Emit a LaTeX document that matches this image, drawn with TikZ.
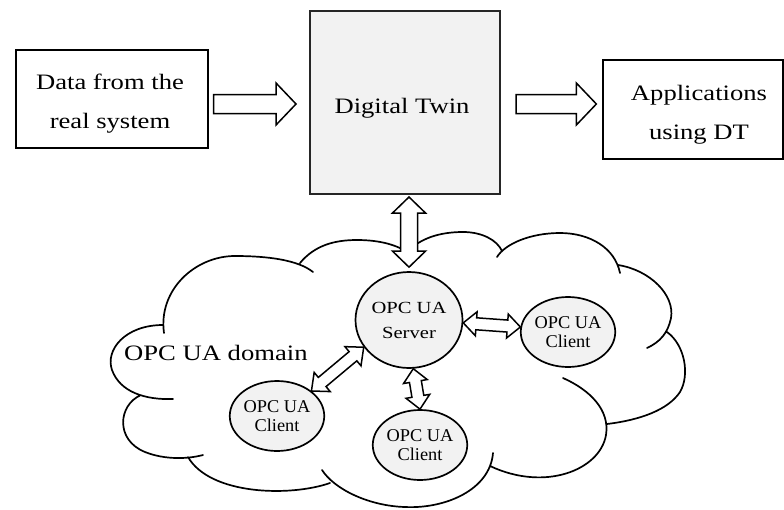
\documentclass[tikz,border=0pt]{standalone}
\usepackage{fontspec}
\setmainfont{Liberation Serif}[FakeStretch=1.21]
\newfontfamily\clientfont{Liberation Serif}[FakeStretch=1.02]
\usetikzlibrary{calc,shapes.geometric}
\definecolor{lg}{HTML}{F2F2F2}

\tikzset{
  plainbox/.style={draw=black, line width=1.3pt, fill=white, inner sep=0pt},
  twinbox/.style={draw=black!85, line width=2pt, fill=lg, inner sep=0pt},
  bigtext/.style={font=\fontsize{22pt}{39pt}\selectfont, align=center, inner sep=0pt},
  srvnode/.style={ellipse, draw=black, line width=1.7pt, fill=lg, inner sep=0pt,
    minimum width=107pt, minimum height=96pt, align=center,
    font=\fontsize{17pt}{25pt}\selectfont},
  clinode/.style={ellipse, draw=black, line width=1.7pt, fill=lg, inner sep=0pt,
    minimum width=80pt, minimum height=70pt, align=center,
    font=\clientfont\fontsize{18pt}{18.5pt}\selectfont},
  blockarr/.style={draw=black, line width=1.5pt, fill=white, line join=miter},
  cloudline/.style={draw=black, line width=1.7pt, line cap=round},
}

% single block arrow: #1 start, #2 end, #3 shaft half width, #4 head half width, #5 head length
\newcommand{\sglarrow}[5]{%
  \path[blockarr] let \p1=#1, \p2=#2, \n1={atan2(\y2-\y1,\x2-\x1)}, \n2={veclen(\x2-\x1,\y2-\y1)} in
    ([shift={(\p1)},rotate=\n1]0,#3)
 -- ([shift={(\p1)},rotate=\n1]{\n2-#5},#3)
 -- ([shift={(\p1)},rotate=\n1]{\n2-#5},#4)
 -- ([shift={(\p1)},rotate=\n1]\n2,0)
 -- ([shift={(\p1)},rotate=\n1]{\n2-#5},-#4)
 -- ([shift={(\p1)},rotate=\n1]{\n2-#5},-#3)
 -- ([shift={(\p1)},rotate=\n1]0,-#3) -- cycle;}

% double block arrow
\newcommand{\dblarrow}[5]{%
  \path[blockarr] let \p1=#1, \p2=#2, \n1={atan2(\y2-\y1,\x2-\x1)}, \n2={veclen(\x2-\x1,\y2-\y1)} in
    ([shift={(\p1)},rotate=\n1]0,0)
 -- ([shift={(\p1)},rotate=\n1]#5,#4)
 -- ([shift={(\p1)},rotate=\n1]#5,#3)
 -- ([shift={(\p1)},rotate=\n1]{\n2-#5},#3)
 -- ([shift={(\p1)},rotate=\n1]{\n2-#5},#4)
 -- ([shift={(\p1)},rotate=\n1]\n2,0)
 -- ([shift={(\p1)},rotate=\n1]{\n2-#5},-#4)
 -- ([shift={(\p1)},rotate=\n1]{\n2-#5},-#3)
 -- ([shift={(\p1)},rotate=\n1]#5,-#3)
 -- ([shift={(\p1)},rotate=\n1]#5,-#4) -- cycle;}

\begin{document}
\begin{tikzpicture}[x=1pt,y=-1pt]
\useasboundingbox (0,0) rectangle (784,509);

% cloud (OPC UA domain)
\draw[cloudline]
 (163,325) .. controls (125,325) and (105,350) .. (112,370) .. controls (120,392) and (145,400) .. (173,399)
 (141,395) .. controls (118,405) and (115,440) .. (145,452) .. controls (165,460) and (188,459) .. (203,455)
 (188,457) .. controls (210,495) and (290,497) .. (330,483)
 (322,470) .. controls (335,490) and (370,506) .. (405,507) .. controls (445,509) and (490,490) .. (493,453)
 (490,466) .. controls (545,492) and (600,470) .. (606,435) .. controls (610,410) and (590,390) .. (563,378)
 (607,424) .. controls (640,420) and (668,410) .. (680,392) .. controls (690,375) and (685,345) .. (667,332)
 (647,348) .. controls (660,342) and (668,333) .. (671,318) .. controls (675,295) and (650,270) .. (618,265)
 (620,273) .. controls (615,248) and (590,233) .. (560,233) .. controls (530,233) and (505,244) .. (497,257)
 (502,251) .. controls (497,240) and (482,232) .. (463,232) .. controls (440,232) and (420,238) .. (406,253)
 (410,254) .. controls (398,245) and (380,240) .. (357,240) .. controls (335,240) and (315,245) .. (300,263)
 (313,272) .. controls (298,260) and (268,256) .. (235,256) .. controls (195,256) and (158,290) .. (164,333);

\node[bigtext, anchor=base west] (dom) at (124,360) {OPC UA domain};

% top row boxes
\node[plainbox, minimum width=192pt, minimum height=98pt] (data) at (112,99) {};
\node[bigtext] (datat) at (110,103.5) {Data from the\\real system};
\node[twinbox, minimum width=190pt, minimum height=183pt] (dt) at (405,102.5) {};
\node[bigtext] (dtt) at (402,108) {Digital Twin};
\node[plainbox, minimum width=180pt, minimum height=99pt] (app) at (693,109.5) {};
\node[bigtext] (appt) at (699,115) {Applications\\using DT};

% OPC UA nodes
\node[srvnode] (server) at (409,320) {OPC UA\\Server};
\node[clinode] (cl1) at (277,416) {OPC UA\\Client};
\node[clinode] (cl2) at (420,445) {OPC UA\\Client};
\node[clinode] (cl3) at (568,332) {OPC UA\\Client};

% arrows
\sglarrow{($(data.east|-dt.west)+(5,1.5)$)}{($(dt.west)+(-13,1.5)$)}{9.5}{21}{20}
\sglarrow{($(dt.east)+(15,1.5)$)}{($(app.west|-dt.west)+(-6,1.5)$)}{9.5}{21}{20}
\dblarrow{($(dt.south-|server.north)+(0,2)$)}{($(server.north)+(0,-4)$)}{8.5}{16.5}{16}
\dblarrow{(cl1.36)}{(server.211)}{6}{12.5}{14}
\dblarrow{(server.-85)}{(cl2.north)}{6}{12}{13}
\dblarrow{(server.-3)}{(cl3.174)}{6}{12}{13}
\end{tikzpicture}
\end{document}
